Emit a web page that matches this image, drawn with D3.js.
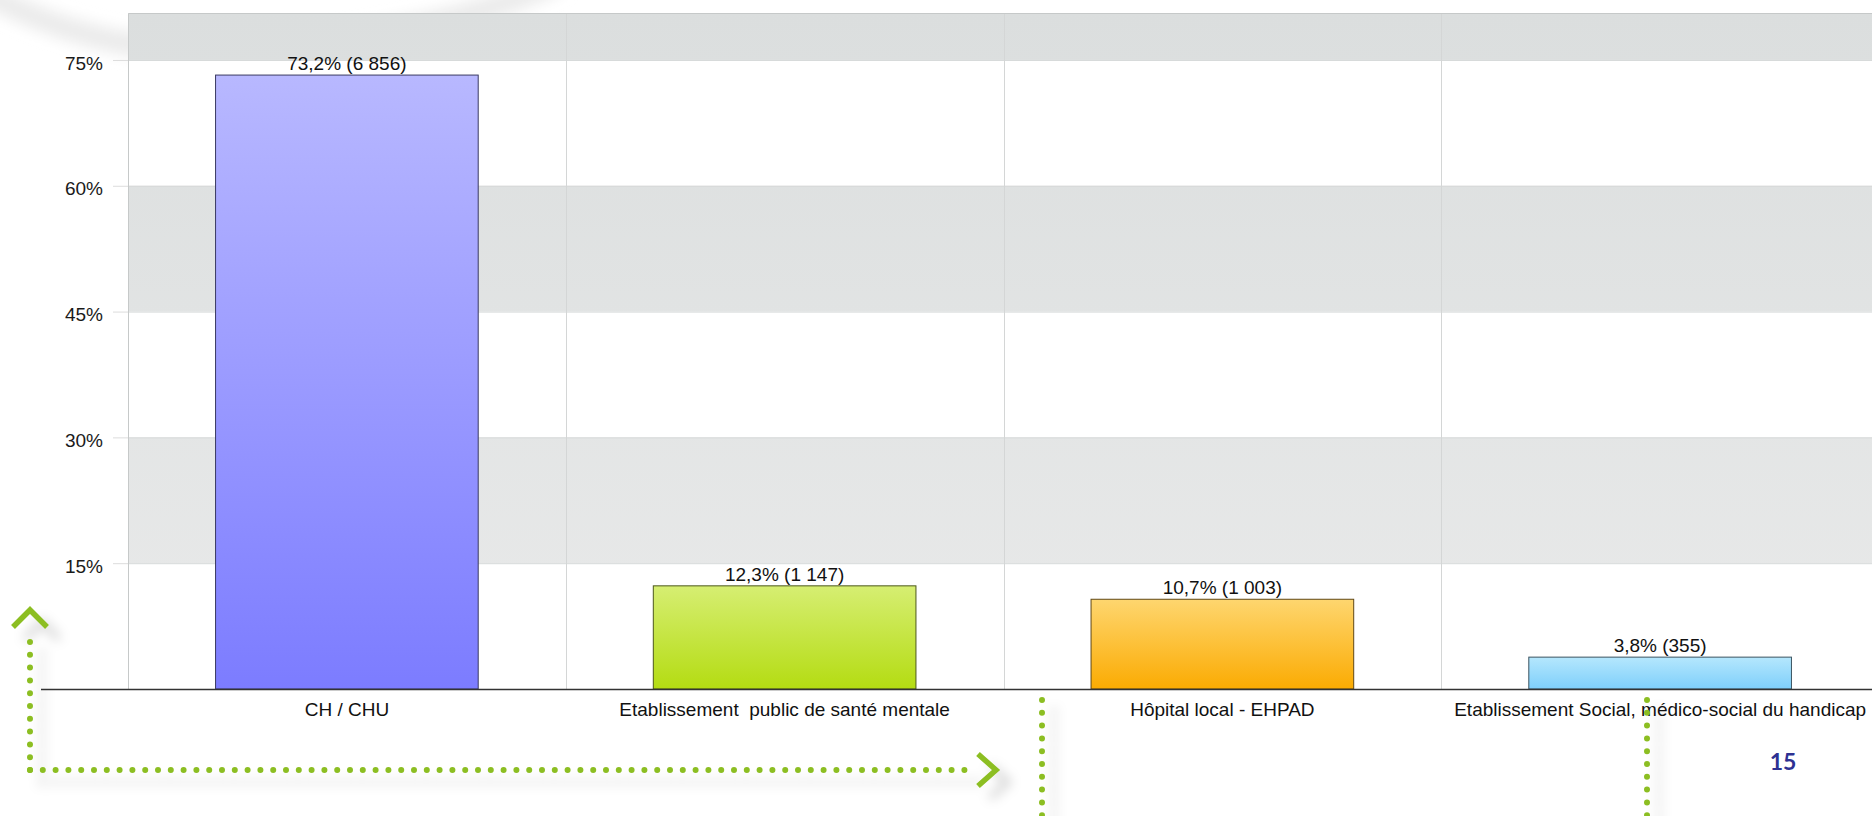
<!DOCTYPE html>
<html>
<head>
<meta charset="utf-8">
<script src="https://cdn.jsdelivr.net/npm/d3@7"></script>
<style>
  html, body { margin: 0; padding: 0; background: #fff; }
  svg { display: block; font-family: "Liberation Sans", Arial, sans-serif; }
  .lbl { white-space: pre; }
</style>
</head>
<body>
<svg id="chart" width="1872" height="816"></svg>
<script>
// values
var categories = ['CH / CHU', 'Etablissement  public de santé mentale', 'Hôpital local - EHPAD', 'Etablissement Social, médico-social du handicap'];
var percents = [73.2, 12.3, 10.7, 3.8];
var counts = [6856, 1147, 1003, 355];
var yTicks = [15, 30, 45, 60, 75];

var barTop = ['#b8b8ff', '#d6ee72', '#fed66f', '#b5e7fd'];
var barBottom = ['#7c7cff', '#b4dc12', '#fbab02', '#7ecffb'];
var green = '#8cbe22';

(function(){
    var fr = d3.formatLocale({ decimal: ',', thousands: ' ', grouping: [3], currency: ['', ' €'] });
    var fmtPct = fr.format('.1f'),
        fmtN = fr.format(',d');

    var plotL = 128, plotR = 1879, plotT = 13, base = 689, yMax = 80.6;

    var svg = d3.select('#chart');
    var defs = svg.append('defs');

    var x = d3.scaleBand().domain(categories).range([plotL, plotR]);
    var y = d3.scaleLinear().domain([0, yMax]).range([base, plotT]);
    var bw = x.bandwidth();

    // gradients
    var bandGrad = defs.append('linearGradient')
        .attr('id', 'bandGrad')
        .attr('gradientUnits', 'userSpaceOnUse')
        .attr('x1', 0).attr('x2', 0).attr('y1', plotT).attr('y2', base);
    bandGrad.append('stop').attr('offset', 0).attr('stop-color', '#dbdede');
    bandGrad.append('stop').attr('offset', 1).attr('stop-color', '#e9eaea');

    categories.forEach(function(c, i){
        var g = defs.append('linearGradient')
            .attr('id', 'bar' + i)
            .attr('x1', 0).attr('x2', 0).attr('y1', 0).attr('y2', 1);
        g.append('stop').attr('offset', 0).attr('stop-color', barTop[i]);
        g.append('stop').attr('offset', 1).attr('stop-color', barBottom[i]);
    });

    var shadow = defs.append('filter').attr('id', 'shadow')
        .attr('x', '-50%').attr('y', '-50%').attr('width', '200%').attr('height', '200%');
    shadow.append('feDropShadow')
        .attr('dx', 12).attr('dy', 12).attr('stdDeviation', 6)
        .attr('flood-color', '#000').attr('flood-opacity', 0.2);

    var soft = defs.append('filter').attr('id', 'soft')
        .attr('x', '-20%').attr('y', '-50%').attr('width', '140%').attr('height', '200%');
    soft.append('feGaussianBlur').attr('stdDeviation', 7);

    // faint swoosh behind the chart
    svg.append('path')
        .attr('d', 'M -20 -10 Q 120 70 300 45 Q 470 25 560 -20')
        .attr('fill', 'none')
        .attr('stroke', '#ececec')
        .attr('stroke-width', 24)
        .attr('filter', 'url(#soft)');

    // plot area + alternating bands
    svg.append('rect')
        .attr('x', plotL).attr('y', plotT)
        .attr('width', plotR - plotL).attr('height', base - plotT)
        .attr('fill', '#fff');

    var bounds = [0].concat(yTicks).concat([yMax]);
    var stripes = d3.range(bounds.length - 1)
        .filter(function(i){ return i % 2 === 1; })
        .map(function(i){ return [bounds[i], bounds[i + 1]]; });

    svg.append('g').selectAll('rect')
        .data(stripes)
        .join('rect')
        .attr('x', plotL)
        .attr('width', plotR - plotL)
        .attr('y', function(d){ return y(d[1]); })
        .attr('height', function(d){ return y(d[0]) - y(d[1]); })
        .attr('fill', 'url(#bandGrad)');

    svg.append('g').selectAll('line')
        .data(yTicks)
        .join('line')
        .attr('x1', plotL).attr('x2', plotR)
        .attr('y1', function(d){ return y(d) + 0.5; })
        .attr('y2', function(d){ return y(d) + 0.5; })
        .attr('stroke', '#d6d9d9');

    svg.append('g').selectAll('line')
        .data(categories.slice(1))
        .join('line')
        .attr('x1', function(d){ return Math.round(x(d)) + 0.5; })
        .attr('x2', function(d){ return Math.round(x(d)) + 0.5; })
        .attr('y1', plotT).attr('y2', base)
        .attr('stroke', '#d4d6d6');

    svg.append('path')
        .attr('d', 'M' + (plotL + 0.5) + ',' + base + 'V' + (plotT + 0.5) + 'H' + plotR)
        .attr('fill', 'none')
        .attr('stroke', '#c6c9c9');

    // y axis
    var yAxis = svg.append('g')
        .attr('transform', 'translate(' + plotL + ',0)')
        .call(d3.axisLeft(y).tickValues(yTicks).tickSize(15).tickPadding(10)
            .tickFormat(function(d){ return d + '%'; }));
    yAxis.select('.domain').remove();
    yAxis.selectAll('.tick line').attr('stroke', '#dcdcdc');
    yAxis.selectAll('.tick text')
        .attr('dy', '0.48em')
        .attr('fill', '#1a1a1a')
        .style('font-size', '19px')
        .style('font-family', '"Liberation Sans", Arial, sans-serif');

    // bars
    var rows = categories.map(function(c, i){
        return { cat: c, pct: percents[i], n: counts[i], i: i };
    });

    svg.append('g').selectAll('rect')
        .data(rows)
        .join('rect')
        .attr('x', function(d){ return x(d.cat) + bw * 0.2; })
        .attr('width', bw * 0.6)
        .attr('y', function(d){ return y(d.pct); })
        .attr('height', function(d){ return base - y(d.pct); })
        .attr('fill', function(d){ return 'url(#bar' + d.i + ')'; })
        .attr('stroke', function(d){ return d3.interpolateRgb(barBottom[d.i], '#1e1e1e')(0.7); })
        .attr('stroke-width', 1);

    svg.append('g').selectAll('text')
        .data(rows)
        .join('text')
        .attr('class', 'lbl')
        .attr('x', function(d){ return x(d.cat) + bw / 2; })
        .attr('y', function(d){ return y(d.pct) - 5; })
        .attr('text-anchor', 'middle')
        .attr('fill', '#111')
        .style('font-size', '19px')
        .text(function(d){ return fmtPct(d.pct) + '% (' + fmtN(d.n) + ')'; });

    // category axis
    var xAxis = svg.append('g')
        .attr('transform', 'translate(0,' + base + ')')
        .call(d3.axisBottom(x).tickSize(0).tickPadding(14));
    xAxis.select('.domain').remove();
    xAxis.selectAll('.tick text')
        .attr('class', 'lbl')
        .attr('fill', '#111')
        .style('font-size', '19px')
        .style('font-family', '"Liberation Sans", Arial, sans-serif');

    svg.append('line')
        .attr('x1', 41).attr('x2', 1872)
        .attr('y1', base + 0.5).attr('y2', base + 0.5)
        .attr('stroke', '#333')
        .attr('stroke-width', 1.4);

    // green dotted decoration of the slide
    var deco = svg.append('g').attr('filter', 'url(#shadow)');
    var dotted = [
        'M30,770 L30,634',
        'M30,770 L968,770',
        'M1042,700 L1042,840',
        'M1647,700 L1647,840'
    ];
    deco.selectAll('path.dots')
        .data(dotted)
        .join('path')
        .attr('class', 'dots')
        .attr('d', function(d){ return d; })
        .attr('fill', 'none')
        .attr('stroke', green)
        .attr('stroke-width', 6)
        .attr('stroke-linecap', 'round')
        .attr('stroke-dasharray', '0 12.8');

    deco.selectAll('path.head')
        .data(['M13,627 L30,610 L47,627', 'M978,754 L996,770 L978,786'])
        .join('path')
        .attr('class', 'head')
        .attr('d', function(d){ return d; })
        .attr('fill', 'none')
        .attr('stroke', green)
        .attr('stroke-width', 5.5);

    // page number
    svg.append('text')
        .attr('x', 1783).attr('y', 770)
        .attr('text-anchor', 'middle')
        .attr('fill', '#2e3192')
        .style('font-family', 'Lato, "DejaVu Sans", sans-serif')
        .style('font-weight', 700)
        .style('font-size', '23px')
        .text('15');
})();
</script>
</body>
</html>
